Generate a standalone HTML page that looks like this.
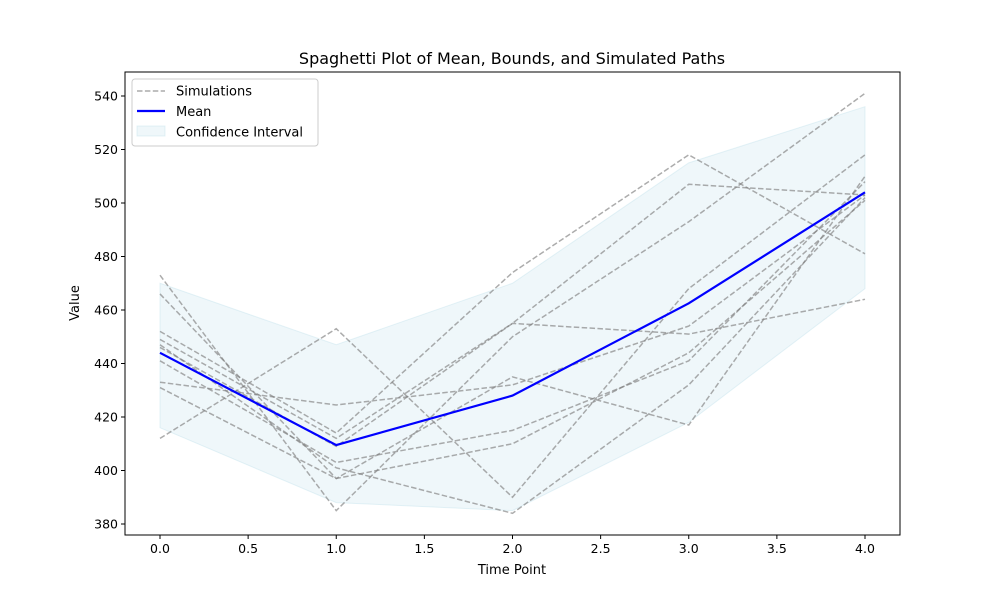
<!DOCTYPE html>
<html><head><meta charset="utf-8"><style>
body{margin:0;background:#fff;font-family:"DejaVu Sans","Liberation Sans",sans-serif}
</style></head><body>
<svg id="chart" width="1000" height="600" xmlns="http://www.w3.org/2000/svg" font-family="DejaVu Sans, Liberation Sans, sans-serif"></svg>
<script>
const xCats=[0,1,2,3,4];
const sim1=[473,385,450,493,541];
const sim2=[466,397,435,417,510];
const sim3=[452,414,474,518,481];
const sim4=[449,412,455,451,464];
const sim5=[447,401,384,432,502];
const sim6=[441,403,415,441,508];
const sim7=[433,424.5,432,454,503];
const sim8=[431,397,410,444,501];
const sim9=[412,453,390,468,518];
const sim10=[446,409,455,507,503];
const sims=[sim1,sim2,sim3,sim4,sim5,sim6,sim7,sim8,sim9,sim10];
const meanVals=[444,409.5,428,462.5,504];
const upperVals=[470,447,470,515,536];
const lowerVals=[416,388,385,418,468];
const xTicks=[0,0.5,1,1.5,2,2.5,3,3.5,4];
const yTicks=[380,400,420,440,460,480,500,520,540];

const NS="http://www.w3.org/2000/svg";
const svg=document.getElementById('chart');
const L=125,R=900,T=72,B=535;
const sx=v=>160+v*(865-160)/4;
const sy=v=>96+(540-v)*(524-96)/160;
function mk(tag,attrs,parent){const e=document.createElementNS(NS,tag);for(const k in attrs)e.setAttribute(k,attrs[k]);(parent||svg).appendChild(e);return e;}

let d='M'+xCats.map((x,i)=>sx(x)+','+sy(upperVals[i])).join('L')+'L'+xCats.slice().reverse().map((x,j)=>{const i=xCats.length-1-j;return sx(x)+','+sy(lowerVals[i]);}).join('L')+'Z';
const band=mk('path',{d:d,fill:'#add8e6','fill-opacity':0.2,stroke:'#add8e6','stroke-opacity':0.3});



sims.forEach((s,k)=>{
  const p=mk('polyline',{points:xCats.map((x,i)=>sx(x)+','+sy(s[i])).join(' '),fill:'none',stroke:'#808080','stroke-opacity':0.65,'stroke-width':1.5,'stroke-dasharray':'5.5,2.4'});
  
  
});
const m=mk('polyline',{points:xCats.map((x,i)=>sx(x)+','+sy(meanVals[i])).join(' '),fill:'none',stroke:'#0000ff','stroke-width':2.2});



const frame=mk('rect',{x:L,y:T,width:R-L,height:B-T,fill:'none',stroke:'#000','stroke-width':1});



xTicks.forEach(t=>{
  mk('line',{x1:sx(t),x2:sx(t),y1:B,y2:B+4,stroke:'#000'});
  const tx=mk('text',{x:sx(t),y:B+18,'text-anchor':'middle','font-size':12.5});
  tx.textContent=t.toFixed(1);
  
  
});
yTicks.forEach(t=>{
  mk('line',{x1:L-4,x2:L,y1:sy(t),y2:sy(t),stroke:'#000'});
  const tx=mk('text',{x:L-7,y:sy(t)+4.5,'text-anchor':'end','font-size':12.5});
  tx.textContent=t;
  
  
});
const title=mk('text',{x:512,y:64,'text-anchor':'middle','font-size':16});
title.textContent='Spaghetti Plot of Mean, Bounds, and Simulated Paths';


const xl=mk('text',{x:512,y:574,'text-anchor':'middle','font-size':13});
xl.textContent='Time Point';


const yl=mk('text',{x:79,y:303,'text-anchor':'middle','font-size':13,transform:'rotate(-90 79 303)'});
yl.textContent='Value';



const lg=mk('g',{});


mk('rect',{x:132,y:79,width:186,height:67,rx:3,fill:'#fff','fill-opacity':0.8,stroke:'#ccc'},lg);
mk('line',{x1:137,x2:165,y1:91,y2:91,stroke:'#808080','stroke-opacity':0.65,'stroke-width':1.5,'stroke-dasharray':'5.5,2.4'},lg);
mk('line',{x1:137,x2:165,y1:111,y2:111,stroke:'#0000ff','stroke-width':2.2},lg);
mk('rect',{x:137,y:126,width:28,height:10,fill:'#add8e6','fill-opacity':0.2,stroke:'#add8e6','stroke-opacity':0.3},lg);
[['Simulations',95.5,'legend-entry-simulations'],['Mean',116,'legend-entry-mean'],['Confidence Interval',136.5,'legend-entry-ci']].forEach(a=>{
  const t=mk('text',{x:176,y:a[1],'font-size':13},lg);t.textContent=a[0];
  
  
});
</script>
</body></html>
